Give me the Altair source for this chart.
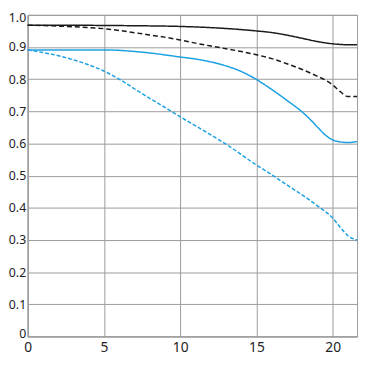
import altair as alt
import pandas as pd

bs_x = [0, 2.5, 5, 7.5, 10, 12.5, 15, 16, 17, 18, 19, 19.5, 20, 20.5, 21, 21.6]
bs_y = [0.968, 0.968, 0.967, 0.966, 0.964, 0.959, 0.950, 0.945, 0.937, 0.927, 0.917, 0.913, 0.910, 0.908, 0.907, 0.907]

bd_x = [0, 2.5, 5, 7.5, 10, 11.1, 12.5, 15, 16, 17, 18, 19, 19.5, 20, 20.5, 21, 21.6]
bd_y = [0.968, 0.964, 0.957, 0.941, 0.922, 0.911, 0.899, 0.876, 0.864, 0.848, 0.830, 0.809, 0.798, 0.782, 0.761, 0.746, 0.746]

cs_x = [0, 2.5, 5, 7.5, 10, 11.1, 12.5, 14, 15, 16, 17, 18, 18.5, 19, 19.5, 20, 20.5, 21, 21.6]
cs_y = [0.891, 0.891, 0.891, 0.884, 0.869, 0.862, 0.848, 0.824, 0.799, 0.768, 0.734, 0.698, 0.676, 0.651, 0.627, 0.611, 0.605, 0.603, 0.606]

cd_x = [0, 2.5, 5, 6, 7.5, 8.9, 10, 12, 13, 15, 16, 17, 18, 19, 20, 20.5, 21, 21.6]
cd_y = [0.891, 0.867, 0.825, 0.800, 0.755, 0.715, 0.683, 0.627, 0.598, 0.533, 0.503, 0.471, 0.440, 0.406, 0.368, 0.339, 0.313, 0.300]

series = ["black solid", "black dashed", "blue solid", "blue dashed"]
colors = ["#1a1a1a", "#1a1a1a", "#1ba1e2", "#1ba1e2"]
dashes = [[1, 0], [5, 3], [1, 0], [4, 2]]

rows = []
for name, xs, ys in zip(series, [bs_x, bd_x, cs_x, cd_x], [bs_y, bd_y, cs_y, cd_y]):
    for i, (x, y) in enumerate(zip(xs, ys)):
        rows.append({"s": name, "x": x, "y": y, "o": i})
df = pd.DataFrame(rows)

x_ticks = [0, 5, 10, 15, 20]
y_ticks = [0, 0.1, 0.2, 0.3, 0.4, 0.5, 0.6, 0.7, 0.8, 0.9, 1.0]

y_label_offset = {
    "condition": [
        {"test": "datum.value == 0", "value": -3},
        {"test": "datum.value == 1", "value": 2.5},
    ],
    "value": 0,
}

chart = alt.Chart(df).mark_line(strokeWidth=1.5, interpolate="monotone").encode(
    x=alt.X("x:Q", scale=alt.Scale(domain=[0, 21.6], nice=False, zero=False),
            axis=alt.Axis(values=x_ticks, title=None, grid=True, tickSize=0,
                          labelPadding=4, labelFlush=False, labelFontSize=14)),
    y=alt.Y("y:Q", scale=alt.Scale(domain=[0, 1.0], nice=False),
            axis=alt.Axis(values=y_ticks, title=None, grid=True, tickSize=0,
                          labelPadding=2, labelFontSize=12.5, labelFlush=False,
                          labelOffset=y_label_offset,
                          labelExpr="datum.value == 0 ? '0' : format(datum.value, '.1f')")),
    color=alt.Color("s:N", scale=alt.Scale(domain=series, range=colors), legend=None),
    strokeDash=alt.StrokeDash("s:N", scale=alt.Scale(domain=series, range=dashes), legend=None),
    detail="s:N",
    order="o:Q",
).properties(
    width=335, height=327,
    autosize=alt.AutoSizeParams(type="none"),
    padding={"left": 20, "top": 4, "right": 5, "bottom": 20},
).configure_axis(
    gridColor="#9a9a9a", gridWidth=1, gridOpacity=1,
    domainColor="#9a9a9a", domainWidth=1,
    labelFont="Noto Sans", labelColor="#222222",
).configure_view(
    stroke="#9a9a9a", strokeWidth=1,
)

chart.save("out.html", embed_options={"renderer": "svg", "actions": False})
